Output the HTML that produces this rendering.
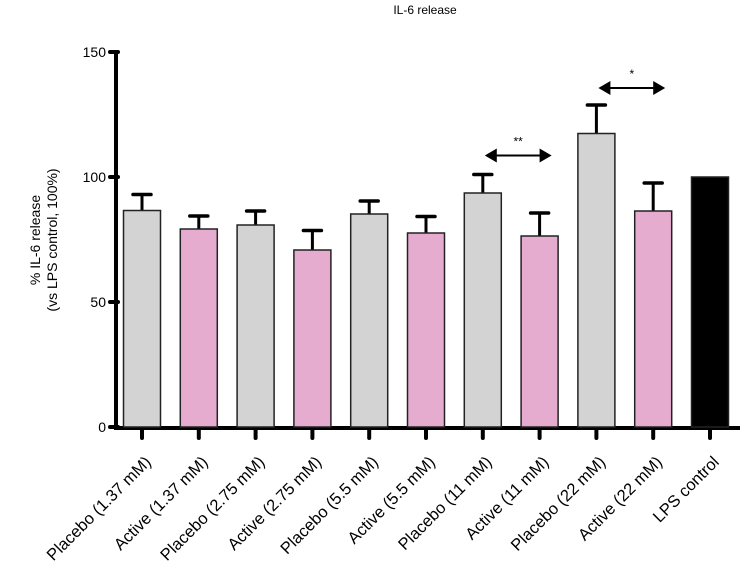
<!DOCTYPE html>
<html><head><meta charset="utf-8"><style>
body{margin:0;background:#fff;}
svg{display:block;font-family:"Liberation Sans",sans-serif;}
</style></head><body>
<svg width="742" height="576">
<text x="425" y="14" font-size="12" text-anchor="middle">IL-6 release</text>
<g id="g"></g>
</svg>
<script>
const categories=["Placebo (1.37 mM)","Active (1.37 mM)","Placebo (2.75 mM)","Active (2.75 mM)","Placebo (5.5 mM)","Active (5.5 mM)","Placebo (11 mM)","Active (11 mM)","Placebo (22 mM)","Active (22 mM)","LPS control"];
const values=[86.6,79.2,80.8,70.8,85.2,77.6,93.6,76.4,117.4,86.4,100];
const errors=[6.4,5.2,5.6,7.8,5.2,6.6,7.4,9.2,11.4,11.2,0];
const yTicks=[0,50,100,150];
const sig=[{a:6,b:7,label:"**",y:109},{a:8,b:9,label:"*",y:136}];
const NS="http://www.w3.org/2000/svg";
const g=document.getElementById('g');
const y=v=>427-v*2.5;
const x=i=>142+i*56.8;
function mk(t,a){const e=document.createElementNS(NS,t);for(const k in a)e.setAttribute(k,a[k]);g.appendChild(e);return e;}
let e;
e=mk('line',{x1:116,y1:51,x2:116,y2:429,stroke:'#000','stroke-width':4});


e=mk('line',{x1:114,y1:428,x2:740,y2:428,stroke:'#000','stroke-width':4});


yTicks.forEach(t=>{
 e=mk('line',{x1:110,y1:y(t),x2:118,y2:y(t),stroke:'#000','stroke-width':4,'stroke-linecap':'round'});
 
 
 e=mk('text',{x:106,y:y(t)+5,'font-size':14,'text-anchor':'end'});e.textContent=t;
 
 
});
values.forEach((v,i)=>{
 const cx=x(i),last=i==10;
 const fill=last?'#000':(i%2==0?'#d3d3d3':'#e6accf');
 if(errors[i]>0){
  e=mk('line',{x1:cx,y1:y(v),x2:cx,y2:y(v+errors[i]),stroke:'#000','stroke-width':3});
  
  
  e=mk('line',{x1:cx-9,y1:y(v+errors[i]),x2:cx+9,y2:y(v+errors[i]),stroke:'#000','stroke-width':3.5,'stroke-linecap':'round'});
  
  
 }
 e=mk('rect',{x:cx-18.5,y:y(v),width:37,height:427-y(v),fill:fill,stroke:'#222','stroke-width':1.5});
 
 
 e=mk('line',{x1:cx,y1:430,x2:cx,y2:438,stroke:'#000','stroke-width':4,'stroke-linecap':'round'});
 
 
 const lx=cx+10,ly=463;
 e=mk('text',{x:lx,y:ly,'font-size':16.5,'text-anchor':'end',transform:`rotate(-45 ${lx} ${ly})`});
 e.textContent=categories[i];
 
 
});
sig.forEach(s=>{
 const x1=x(s.a)+2,x2=x(s.b)+12,yy=y(s.y)+1;
 e=mk('line',{x1:x1+8,y1:yy,x2:x2-8,y2:yy,stroke:'#000','stroke-width':2});
 
 
 e=mk('path',{d:`M${x1} ${yy} l12 -7 v14 z M${x2} ${yy} l-12 -7 v14 z`,fill:'#000'});
 
 
 e=mk('text',{x:(x1+x2)/2,y:yy-10,'font-size':12,'text-anchor':'middle'});e.textContent=s.label;
 
 
});
e=mk('text',{x:0,y:0,'font-size':14,'text-anchor':'middle',transform:'translate(40 240) rotate(-90)'});


const t1=document.createElementNS(NS,'tspan');t1.setAttribute('x',0);t1.setAttribute('dy',0);t1.textContent='% IL-6 release';e.appendChild(t1);
const t2=document.createElementNS(NS,'tspan');t2.setAttribute('x',0);t2.setAttribute('dy',17);t2.textContent='(vs LPS control, 100%)';e.appendChild(t2);
</script>
</body></html>
